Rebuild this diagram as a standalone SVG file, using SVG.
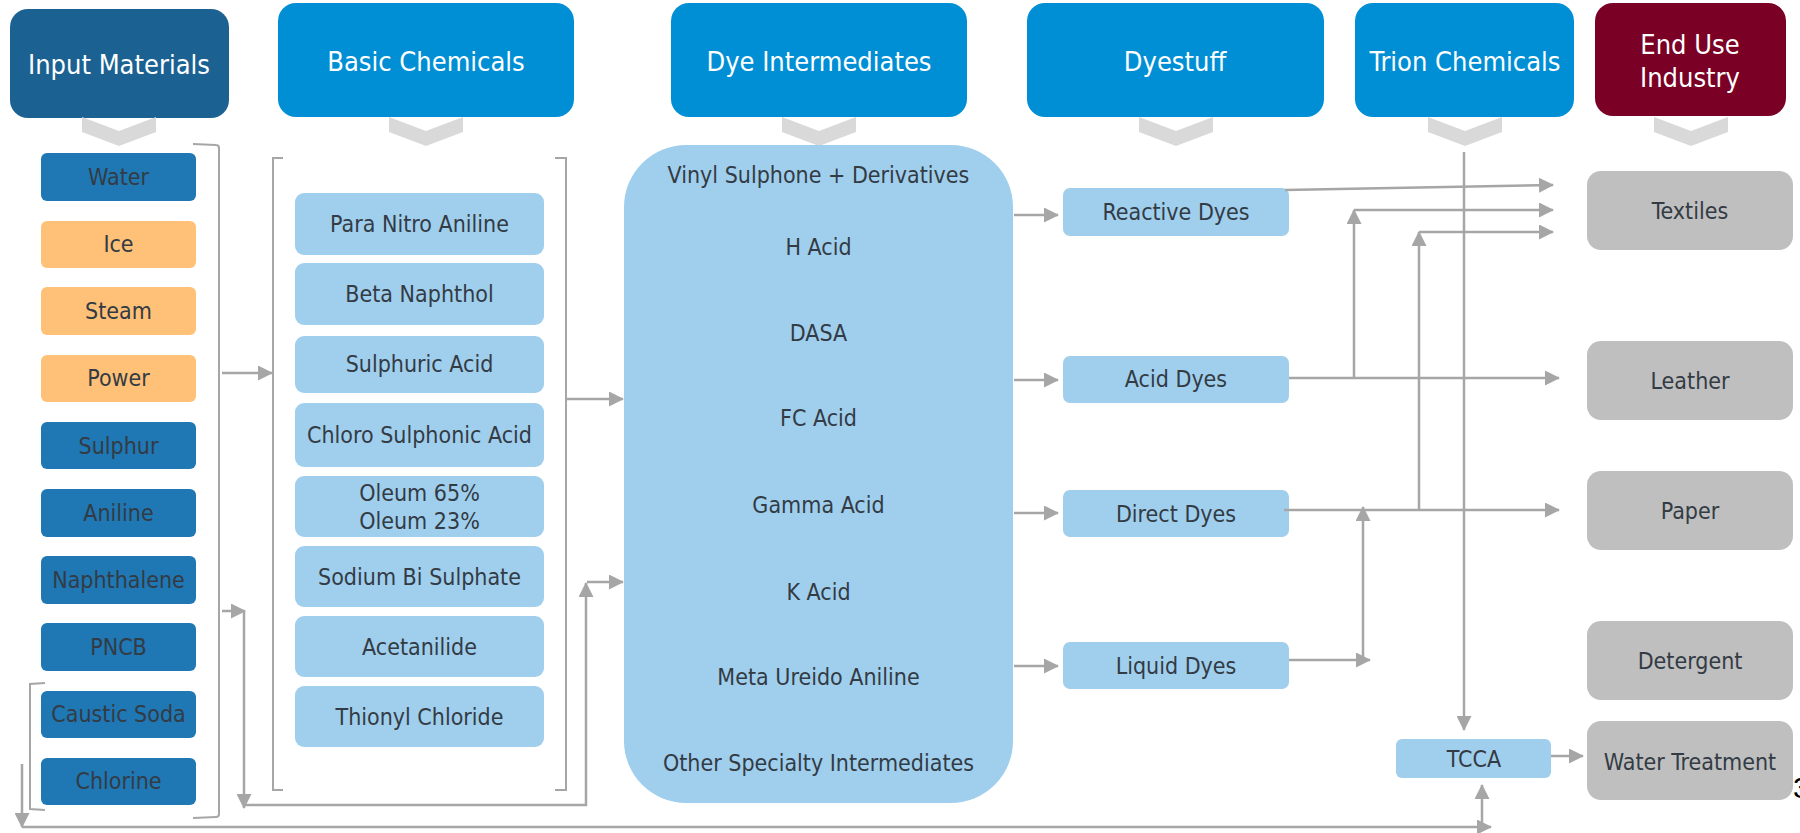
<svg xmlns="http://www.w3.org/2000/svg" width="1800" height="833" viewBox="0 0 1800 833">
<defs>
<style>
text{font-family:"DejaVu Sans Condensed","DejaVu Sans","Liberation Sans",sans-serif;font-stretch:condensed;text-anchor:middle;dominant-baseline:central}
.hd{fill:#ffffff;font-size:27px}
.t{fill:#333b44;font-size:23px}
.hdark{fill:#1b6192}
.hblue{fill:#008fd5}
.hred{fill:#7a0026}
.dk{fill:#1f77b4}
.or{fill:#ffc177}
.lb{fill:#a0cfee}
.gr{fill:#bfbfbf}
.chev{fill:#d9d9d9}
.ln{fill:none;stroke:#a6a6a6;stroke-width:2.5}
.br{fill:none;stroke:#a6a6a6;stroke-width:2}
</style>
<marker id="ah" viewBox="0 0 15 15" refX="14" refY="7.5" markerWidth="15" markerHeight="15" markerUnits="userSpaceOnUse" orient="auto">
<path d="M0,0 L15,7.5 L0,15 Z" fill="#a6a6a6"/>
</marker>
</defs>
<rect width="1800" height="833" fill="#ffffff"/>

<!-- headers -->
<g id="h-input"><rect class="hdark" x="10" y="9" width="219" height="109" rx="18"/><text class="hd" x="119" y="64">Input Materials</text></g>
<g id="h-basic"><rect class="hblue" x="278" y="3" width="296" height="114" rx="18"/><text class="hd" x="426" y="61">Basic Chemicals</text></g>
<g id="h-dye"><rect class="hblue" x="671" y="3" width="296" height="114" rx="18"/><text class="hd" x="819" y="61">Dye Intermediates</text></g>
<g id="h-dyestuff"><rect class="hblue" x="1027" y="3" width="297" height="114" rx="18"/><text class="hd" x="1175" y="61">Dyestuff</text></g>
<g id="h-trion"><rect class="hblue" x="1355" y="3" width="219" height="114" rx="18"/><text class="hd" x="1465" y="61">Trion Chemicals</text></g>
<g id="h-end"><rect class="hred" x="1595" y="3" width="191" height="113" rx="18"/><text class="hd" x="1690" y="44">End Use</text><text class="hd" x="1690" y="77">Industry</text></g>

<!-- chevrons -->
<g id="chevrons">
<polygon class="chev" points="82,117 119,131 156,117 156,132 119,146 82,132"/>
<polygon class="chev" points="389,117 426,131 463,117 463,132 426,146 389,132"/>
<polygon class="chev" points="782,117 819,131 856,117 856,132 819,146 782,132"/>
<polygon class="chev" points="1139,117 1176,131 1213,117 1213,132 1176,146 1139,132"/>
<polygon class="chev" points="1428,117 1465,131 1502,117 1502,132 1465,146 1428,132"/>
<polygon class="chev" points="1654,117 1691,131 1728,117 1728,132 1691,146 1654,132"/>
</g>

<!-- input materials -->
<g id="n-water"><rect class="dk" x="41" y="153" width="155" height="48" rx="6"/><text class="t" x="118.5" y="177">Water</text></g>
<g id="n-ice"><rect class="or" x="41" y="221" width="155" height="47" rx="6"/><text class="t" x="118.5" y="244">Ice</text></g>
<g id="n-steam"><rect class="or" x="41" y="287" width="155" height="48" rx="6"/><text class="t" x="118.5" y="311">Steam</text></g>
<g id="n-power"><rect class="or" x="41" y="355" width="155" height="47" rx="6"/><text class="t" x="118.5" y="378">Power</text></g>
<g id="n-sulphur"><rect class="dk" x="41" y="422" width="155" height="47" rx="6"/><text class="t" x="118.5" y="446">Sulphur</text></g>
<g id="n-aniline"><rect class="dk" x="41" y="489" width="155" height="48" rx="6"/><text class="t" x="118.5" y="513">Aniline</text></g>
<g id="n-naphthalene"><rect class="dk" x="41" y="556" width="155" height="48" rx="6"/><text class="t" x="118.5" y="580">Naphthalene</text></g>
<g id="n-pncb"><rect class="dk" x="41" y="623" width="155" height="48" rx="6"/><text class="t" x="118.5" y="647">PNCB</text></g>
<g id="n-caustic"><rect class="dk" x="41" y="691" width="155" height="47" rx="6"/><text class="t" x="118.5" y="714">Caustic Soda</text></g>
<g id="n-chlorine"><rect class="dk" x="41" y="758" width="155" height="47" rx="6"/><text class="t" x="118.5" y="781">Chlorine</text></g>

<!-- basic chemicals -->
<g id="n-pna"><rect class="lb" x="295" y="193" width="249" height="62" rx="9"/><text class="t" x="419.5" y="224">Para Nitro Aniline</text></g>
<g id="n-beta"><rect class="lb" x="295" y="263" width="249" height="62" rx="9"/><text class="t" x="419.5" y="294">Beta Naphthol</text></g>
<g id="n-sulacid"><rect class="lb" x="295" y="336" width="249" height="57" rx="9"/><text class="t" x="419.5" y="364">Sulphuric Acid</text></g>
<g id="n-chloro"><rect class="lb" x="295" y="403" width="249" height="64" rx="9"/><text class="t" x="419.5" y="435">Chloro Sulphonic Acid</text></g>
<g id="n-oleum"><rect class="lb" x="295" y="476" width="249" height="61" rx="9"/><text class="t" x="419.5" y="493">Oleum 65%</text><text class="t" x="419.5" y="521">Oleum 23%</text></g>
<g id="n-sodium"><rect class="lb" x="295" y="546" width="249" height="61" rx="9"/><text class="t" x="419.5" y="577">Sodium Bi Sulphate</text></g>
<g id="n-acet"><rect class="lb" x="295" y="616" width="249" height="61" rx="9"/><text class="t" x="419.5" y="647">Acetanilide</text></g>
<g id="n-thionyl"><rect class="lb" x="295" y="686" width="249" height="61" rx="9"/><text class="t" x="419.5" y="717">Thionyl Chloride</text></g>

<!-- dye intermediates -->
<g id="n-intermediates">
<rect class="lb" x="624" y="145" width="389" height="658" rx="62"/>
<text class="t" x="818.5" y="175">Vinyl Sulphone + Derivatives</text>
<text class="t" x="818.5" y="247">H Acid</text>
<text class="t" x="818.5" y="333">DASA</text>
<text class="t" x="818.5" y="418">FC Acid</text>
<text class="t" x="818.5" y="505">Gamma Acid</text>
<text class="t" x="818.5" y="592">K Acid</text>
<text class="t" x="818.5" y="677">Meta Ureido Aniline</text>
<text class="t" x="818.5" y="763">Other Specialty Intermediates</text>
</g>

<!-- dyestuff -->
<g id="n-reactive"><rect class="lb" x="1063" y="188" width="226" height="48" rx="7"/><text class="t" x="1176" y="212">Reactive Dyes</text></g>
<g id="n-acid"><rect class="lb" x="1063" y="356" width="226" height="47" rx="7"/><text class="t" x="1176" y="379">Acid Dyes</text></g>
<g id="n-direct"><rect class="lb" x="1063" y="490" width="226" height="47" rx="7"/><text class="t" x="1176" y="514">Direct Dyes</text></g>
<g id="n-liquid"><rect class="lb" x="1063" y="642" width="226" height="47" rx="7"/><text class="t" x="1176" y="666">Liquid Dyes</text></g>
<g id="n-tcca"><rect class="lb" x="1396" y="739" width="155" height="39" rx="6"/><text class="t" x="1474" y="759">TCCA</text></g>

<!-- end use -->
<g id="n-textiles"><rect class="gr" x="1587" y="171" width="206" height="79" rx="14"/><text class="t" x="1690" y="211">Textiles</text></g>
<g id="n-leather"><rect class="gr" x="1587" y="341" width="206" height="79" rx="14"/><text class="t" x="1690" y="381">Leather</text></g>
<g id="n-paper"><rect class="gr" x="1587" y="471" width="206" height="79" rx="14"/><text class="t" x="1690" y="511">Paper</text></g>
<g id="n-detergent"><rect class="gr" x="1587" y="621" width="206" height="79" rx="14"/><text class="t" x="1690" y="661">Detergent</text></g>
<g id="n-water-treatment"><rect class="gr" x="1587" y="721" width="206" height="79" rx="14"/><text class="t" x="1690" y="762">Water Treatment</text></g>

<!-- connectors -->
<g id="connectors">
<path class="br" d="M193,144 L216,145 Q219,145 219,148 L219,814 Q219,817 216,817 L193,818"/>
<path class="br" d="M283,158 L273,158 L273,790 L283,790"/>
<path class="br" d="M555,158 L566,158 L566,790 L555,790"/>
<path class="br" d="M45,683 L30,684 L30,809 L45,810"/>
<path class="ln" d="M222,373 L272,373" marker-end="url(#ah)"/>
<path class="ln" d="M566,399 L623,399" marker-end="url(#ah)"/>
<path class="ln" d="M222,611 L245,611" marker-end="url(#ah)"/>
<path class="ln" d="M244,611 L244,808" marker-end="url(#ah)"/>
<path class="ln" d="M244,805 L586,805 L586,583" marker-end="url(#ah)"/>
<path class="ln" d="M587,582 L623,582" marker-end="url(#ah)"/>
<path class="ln" d="M22,764 L22,827" marker-end="url(#ah)"/>
<path class="ln" d="M22,827 L1491,827" marker-end="url(#ah)"/>
<path class="ln" d="M1482,827 L1482,785" marker-end="url(#ah)"/>
<path class="ln" d="M1014,215 L1058,215" marker-end="url(#ah)"/>
<path class="ln" d="M1014,380 L1058,380" marker-end="url(#ah)"/>
<path class="ln" d="M1014,513 L1058,513" marker-end="url(#ah)"/>
<path class="ln" d="M1014,666 L1058,666" marker-end="url(#ah)"/>
<path class="ln" d="M1285,190 L1553,185" marker-end="url(#ah)"/>
<path class="ln" d="M1289,378 L1559,378" marker-end="url(#ah)"/>
<path class="ln" d="M1354,378 L1354,210" marker-end="url(#ah)"/>
<path class="ln" d="M1354,210 L1553,210" marker-end="url(#ah)"/>
<path class="ln" d="M1284,510 L1559,510" marker-end="url(#ah)"/>
<path class="ln" d="M1419,510 L1419,232" marker-end="url(#ah)"/>
<path class="ln" d="M1419,232 L1553,232" marker-end="url(#ah)"/>
<path class="ln" d="M1289,660 L1370,660" marker-end="url(#ah)"/>
<path class="ln" d="M1363,660 L1363,507" marker-end="url(#ah)"/>
<path class="ln" d="M1464,152 L1464,730" marker-end="url(#ah)"/>
<path class="ln" d="M1551,756 L1583,756" marker-end="url(#ah)"/>
</g>

<text x="1793" y="787" style="text-anchor:start;font-family:'Liberation Sans',sans-serif;font-size:30px;fill:#000000">3</text>
</svg>
